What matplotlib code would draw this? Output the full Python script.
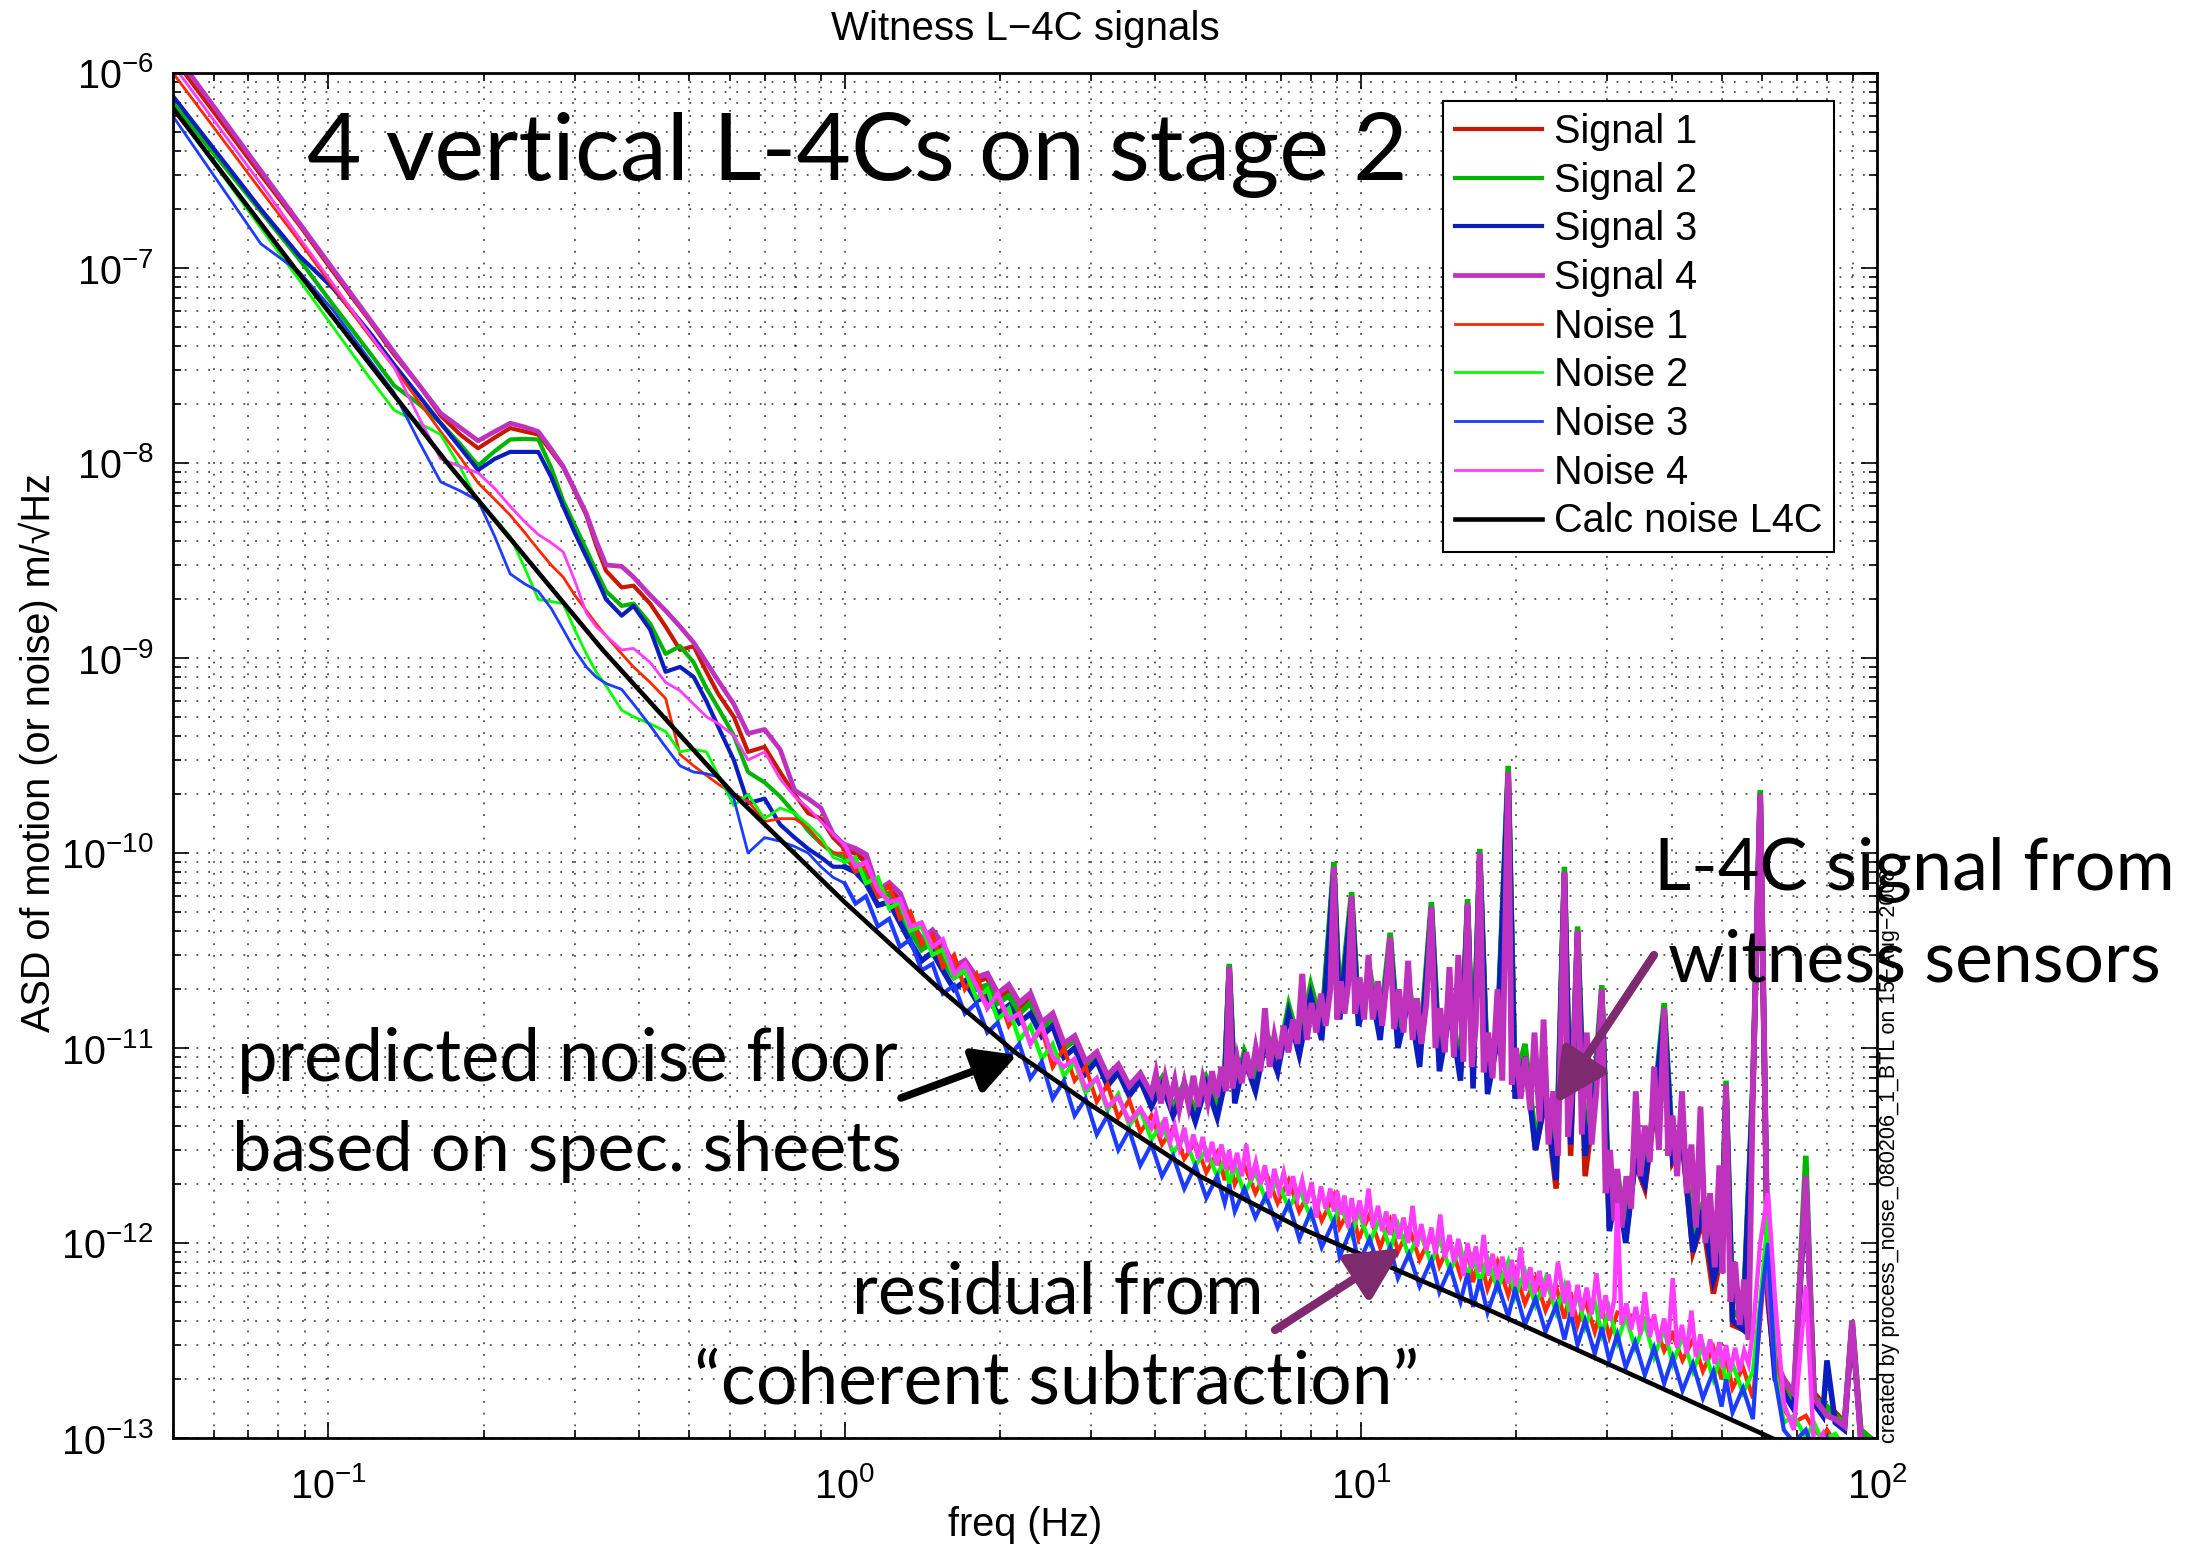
import matplotlib
matplotlib.use("Agg")
import matplotlib.pyplot as plt
from matplotlib.ticker import LogLocator, NullFormatter, FixedLocator
import numpy as np

W, H = 2208, 1548

# ------------------------------------------------------------------
# Data (frequency in Hz, ASD in m/rtHz)
# ------------------------------------------------------------------
FREQ_LO = [0.05, 0.074, 0.088, 0.102, 0.12, 0.134, 0.15, 0.165, 0.18, 0.195,
           0.21, 0.225, 0.24, 0.255, 0.27, 0.285, 0.30, 0.316, 0.33, 0.345,
           0.37, 0.39, 0.42, 0.45, 0.48, 0.51, 0.54, 0.57, 0.61, 0.65,
           0.70, 0.75, 0.80, 0.85, 0.90, 0.95]

FREQ_HI = [1.0, 1.05, 1.1, 1.16, 1.22, 1.28, 1.34, 1.41, 1.48, 1.55,
           1.63, 1.71, 1.80, 1.89, 1.98, 2.08, 2.18, 2.29, 2.41, 2.53,
           2.66, 2.79, 2.93, 3.08, 3.23, 3.39, 3.56, 3.74, 3.93, 4.12,
           4.33, 4.55, 4.78, 5.02, 5.27, 5.45, 5.56, 5.7, 5.95, 6.25,
           6.55, 6.9, 7.25, 7.6, 8.0, 8.4, 8.87, 9.1, 9.6, 9.9,
           10.4, 10.9, 11.4, 11.8, 12.4, 13.0, 13.7, 14.2, 14.9, 15.6,
           16.1, 16.5, 17.0, 17.6, 18.4, 19.3, 19.9, 20.8, 21.8, 22.8,
           23.9, 24.8, 25.5, 26.3, 27.2, 28.4, 29.3, 30.3, 31.4, 32.6,
           34.0, 35.5, 37.0, 38.7, 40.2, 42.0, 44.0, 46.0, 48.2, 50.0,
           51.0, 52.5, 55.0, 57.5, 59.4, 61.5, 63.5, 66.0, 69.0, 72.8,
           75.5, 78.5, 80.0, 83.0, 86.5, 89.5, 93.0, 97.0, 100.0]

# finer frequency grid (3.9-57.5 Hz) used for the two top-most traces
F_MID = [3.93, 4.01, 4.10, 4.18, 4.27, 4.36, 4.45, 4.55, 4.64, 4.74,
         4.84, 4.94, 5.05, 5.15, 5.26, 5.37, 5.48, 5.56, 5.64, 5.76,
         5.88, 6.0, 6.13, 6.26, 6.39, 6.52, 6.66, 6.8, 6.94, 7.09,
         7.24, 7.39, 7.54, 7.7, 7.86, 8.03, 8.2, 8.37, 8.55, 8.73,
         8.87, 9.0, 9.15, 9.3, 9.45, 9.6, 9.75, 9.95, 10.15, 10.35,
         10.55, 10.8, 11.0, 11.2, 11.4, 11.6, 11.85, 12.1, 12.35, 12.6,
         12.85, 13.1, 13.4, 13.7, 13.95, 14.25, 14.55, 14.85, 15.15, 15.45,
         15.8, 16.1, 16.4, 16.7, 17.0, 17.3, 17.65, 18.0, 18.4, 18.8,
         19.3, 19.6, 20.0, 20.4, 20.8, 21.3, 21.7, 22.2, 22.6, 23.1,
         23.6, 24.1, 24.8, 25.2, 25.7, 26.3, 26.8, 27.4, 28.0, 28.6,
         29.3, 29.8, 30.4, 31.0, 31.4, 32.0, 32.7, 33.4, 34.1, 34.8,
         35.5, 36.3, 37.0, 37.8, 38.7, 39.4, 40.2, 41.0, 41.9, 42.8,
         43.7, 44.6, 45.5, 46.5, 47.5, 48.5, 49.5, 50.2, 51.0, 52.0,
         53.1, 54.2, 55.3, 56.4, 57.5]

S1_LO = [1.2e-6, 3.0e-7, 1.65e-7, 9.6e-8, 5.4e-8, 3.6e-8, 2.5e-8, 1.75e-8, 1.4e-8, 1.19e-8,
         1.35e-8, 1.51e-8, 1.45e-8, 1.4e-8, 1.15e-8, 9.5e-9, 7.2e-9, 5.4e-9, 3.8e-9, 2.8e-9,
         2.3e-9, 2.35e-9, 1.9e-9, 1.45e-9, 1.1e-9, 1.15e-9, 8.5e-10, 6.5e-10, 5.0e-10, 3.3e-10,
         3.5e-10, 2.6e-10, 2.0e-10, 1.6e-10, 1.5e-10, 1.2e-10]
S1_HI = [1.05e-10, 1.0e-10, 9.0e-11, 6.2e-11, 6.8e-11, 5.8e-11, 4.4e-11, 3.5e-11, 3.8e-11, 3.2e-11,
         2.5e-11, 2.7e-11, 2.2e-11, 2.3e-11, 1.8e-11, 2.0e-11, 1.6e-11, 1.8e-11, 1.3e-11, 1.45e-11,
         1.0e-11, 1.1e-11, 8.2e-12, 9.2e-12, 7.0e-12, 8.0e-12, 6.2e-12, 7.2e-12, 5.6e-12, 6.8e-12,
         5.0e-12, 6.4e-12, 4.6e-12, 6.8e-12, 4.8e-12, 7.0e-12, 2.5e-11, 5.8e-12, 9.2e-12, 6.8e-12,
         1.15e-11, 8.2e-12, 1.55e-11, 1.0e-11, 1.9e-11, 1.25e-11, 8.2e-11, 1.55e-11, 5.8e-11, 1.45e-11,
         2.3e-11, 1.25e-11, 3.6e-11, 1.15e-11, 1.9e-11, 9.0e-12, 5.1e-11, 8.5e-12, 1.6e-11, 7.5e-12,
         5.3e-11, 7.0e-12, 9.5e-11, 6.5e-12, 1.1e-11, 2.5e-10, 6.0e-12, 9.5e-12, 3.0e-12, 5.5e-12,
         1.9e-12, 7.8e-11, 2.8e-12, 3.9e-11, 2.2e-12, 5.5e-12, 1.9e-11, 1.2e-12, 2.0e-12, 1.05e-12,
         2.6e-12, 1.9e-12, 4.6e-12, 1.5e-11, 2.6e-12, 3.2e-12, 9.0e-13, 1.3e-12, 5.5e-13, 9.0e-13,
         6.0e-12, 3.8e-13, 3.6e-13, 6.0e-12, 1.9e-10, 5.0e-13, 2.2e-13, 1.9e-13, 1.6e-13, 2.1e-12,
         1.7e-13, 1.5e-13, 1.4e-13, 1.35e-13, 1.2e-13, 3.8e-13, 1.1e-13, 1.0e-13, 9.5e-14]

S2_LO = [7.0e-7, 1.95e-7, 1.1e-7, 6.5e-8, 3.7e-8, 2.5e-8, 2.0e-8, 1.6e-8, 1.25e-8, 9.7e-9,
         1.15e-8, 1.32e-8, 1.33e-8, 1.32e-8, 9.5e-9, 6.4e-9, 4.8e-9, 3.6e-9, 2.8e-9, 2.2e-9,
         1.85e-9, 1.9e-9, 1.5e-9, 1.05e-9, 1.15e-9, 9.5e-10, 7.0e-10, 5.5e-10, 4.0e-10, 2.6e-10,
         2.3e-10, 1.95e-10, 1.6e-10, 1.3e-10, 1.12e-10, 1.0e-10]
S2_HI = [9.5e-11, 8.5e-11, 7.8e-11, 6.0e-11, 6.2e-11, 5.0e-11, 4.0e-11, 3.2e-11, 3.5e-11, 2.8e-11,
         2.3e-11, 2.5e-11, 2.0e-11, 2.1e-11, 1.7e-11, 1.85e-11, 1.5e-11, 1.7e-11, 1.25e-11, 1.4e-11,
         1.0e-11, 1.1e-11, 8.2e-12, 9.3e-12, 7.0e-12, 8.0e-12, 6.2e-12, 7.3e-12, 5.6e-12, 7.0e-12,
         5.0e-12, 6.6e-12, 4.7e-12, 7.0e-12, 4.9e-12, 7.2e-12, 2.7e-11, 5.9e-12, 9.6e-12, 6.9e-12,
         1.22e-11, 8.4e-12, 1.65e-11, 1.05e-11, 2.1e-11, 1.3e-11, 9.0e-11, 1.6e-11, 6.3e-11, 1.5e-11,
         2.5e-11, 1.3e-11, 3.9e-11, 1.2e-11, 2.1e-11, 9.5e-12, 5.6e-11, 9.0e-12, 1.75e-11, 8.0e-12,
         5.8e-11, 7.5e-12, 1.05e-10, 7.0e-12, 1.25e-11, 2.8e-10, 6.5e-12, 1.05e-11, 3.4e-12, 6.0e-12,
         2.5e-12, 8.5e-11, 3.9e-12, 4.2e-11, 3.4e-12, 6.8e-12, 2.1e-11, 1.4e-12, 2.3e-12, 1.2e-12,
         2.9e-12, 2.2e-12, 5.2e-12, 1.7e-11, 3.0e-12, 3.6e-12, 1.1e-12, 1.6e-12, 7.5e-13, 1.0e-12,
         6.8e-12, 4.5e-13, 4.0e-13, 6.8e-12, 2.1e-10, 6.0e-13, 2.3e-13, 2.0e-13, 1.6e-13, 2.8e-12,
         1.6e-13, 1.5e-13, 1.45e-13, 1.3e-13, 1.2e-13, 4.0e-13, 1.1e-13, 1.0e-13, 9.0e-14]

S3_LO = [7.6e-7, 2.0e-7, 1.15e-7, 7.9e-8, 4.7e-8, 3.2e-8, 2.2e-8, 1.6e-8, 1.2e-8, 9.2e-9,
         1.05e-8, 1.14e-8, 1.14e-8, 1.14e-8, 8.5e-9, 6.0e-9, 4.4e-9, 3.3e-9, 2.6e-9, 2.0e-9,
         1.65e-9, 1.85e-9, 1.4e-9, 8.5e-10, 9.0e-10, 8.0e-10, 6.0e-10, 4.4e-10, 3.0e-10, 1.8e-10,
         1.9e-10, 1.4e-10, 1.2e-10, 1.05e-10, 9.5e-11, 8.5e-11]
S3_HI = [8.5e-11, 8.0e-11, 7.0e-11, 5.4e-11, 5.6e-11, 4.4e-11, 3.5e-11, 2.8e-11, 3.1e-11, 2.5e-11,
         2.0e-11, 2.2e-11, 1.75e-11, 1.85e-11, 1.5e-11, 1.65e-11, 1.35e-11, 1.5e-11, 1.15e-11, 1.3e-11,
         9.0e-12, 1.0e-11, 7.4e-12, 8.6e-12, 6.4e-12, 7.5e-12, 5.7e-12, 6.8e-12, 5.0e-12, 6.5e-12,
         4.5e-12, 6.2e-12, 4.2e-12, 6.5e-12, 4.4e-12, 6.6e-12, 2.6e-11, 5.2e-12, 8.8e-12, 6.0e-12,
         1.1e-11, 7.5e-12, 1.5e-11, 9.2e-12, 1.85e-11, 1.1e-11, 8.3e-11, 1.4e-11, 5.8e-11, 1.3e-11,
         2.2e-11, 1.1e-11, 3.6e-11, 1.0e-11, 1.8e-11, 8.0e-12, 5.2e-11, 7.6e-12, 1.55e-11, 6.8e-12,
         5.4e-11, 6.2e-12, 9.8e-11, 5.8e-12, 1.1e-11, 2.5e-10, 5.5e-12, 9.0e-12, 3.0e-12, 5.6e-12,
         2.1e-12, 7.9e-11, 3.2e-12, 3.9e-11, 2.8e-12, 5.8e-12, 1.9e-11, 1.15e-12, 2.0e-12, 1.0e-12,
         2.6e-12, 2.0e-12, 4.8e-12, 1.55e-11, 2.7e-12, 3.3e-12, 9.0e-13, 1.45e-12, 6.5e-13, 9.0e-13,
         6.2e-12, 4.0e-13, 3.6e-13, 6.2e-12, 1.95e-10, 5.5e-13, 2.0e-13, 1.7e-13, 1.4e-13, 2.1e-12,
         1.5e-13, 1.3e-13, 2.5e-13, 1.2e-13, 1.1e-13, 3.8e-13, 1.0e-13, 9.0e-14, 8.5e-14]

S4_LO = [1.3e-6, 3.15e-7, 1.69e-7, 9.9e-8, 5.5e-8, 3.7e-8, 2.5e-8, 1.8e-8, 1.52e-8, 1.3e-8,
         1.45e-8, 1.6e-8, 1.53e-8, 1.45e-8, 1.18e-8, 9.6e-9, 7.3e-9, 5.5e-9, 4.0e-9, 3.0e-9,
         2.95e-9, 2.6e-9, 2.1e-9, 1.75e-9, 1.45e-9, 1.2e-9, 9.5e-10, 7.6e-10, 5.8e-10, 4.1e-10,
         4.3e-10, 3.4e-10, 2.1e-10, 1.9e-10, 1.7e-10, 1.25e-10]
S4_HI = [1.1e-10, 1.05e-10, 9.8e-11, 6.4e-11, 7.0e-11, 6.2e-11, 4.5e-11, 3.6e-11, 4.0e-11, 3.4e-11,
         2.6e-11, 2.8e-11, 2.3e-11, 2.4e-11, 1.9e-11, 2.1e-11, 1.7e-11, 1.9e-11, 1.35e-11, 1.5e-11,
         1.05e-11, 1.15e-11, 8.5e-12, 9.5e-12, 7.2e-12, 8.2e-12, 6.4e-12, 7.4e-12, 5.8e-12, 7.0e-12,
         5.2e-12, 6.6e-12, 4.8e-12, 7.0e-12, 5.0e-12, 7.2e-12, 2.6e-11, 6.0e-12, 9.5e-12, 7.0e-12,
         1.2e-11, 8.5e-12, 1.6e-11, 1.05e-11, 2.0e-11, 1.3e-11, 8.5e-11, 1.6e-11, 6.0e-11, 1.5e-11,
         2.4e-11, 1.3e-11, 3.7e-11, 1.2e-11, 2.0e-11, 9.5e-12, 5.3e-11, 9.0e-12, 1.7e-11, 8.0e-12,
         5.5e-11, 7.5e-12, 1.0e-10, 7.0e-12, 1.2e-11, 2.6e-10, 6.5e-12, 1.0e-11, 3.5e-12, 6.0e-12,
         2.6e-12, 8.0e-11, 4.0e-12, 4.0e-11, 3.5e-12, 6.5e-12, 2.0e-11, 1.4e-12, 2.2e-12, 1.2e-12,
         2.8e-12, 2.2e-12, 5.0e-12, 1.6e-11, 3.0e-12, 3.5e-12, 1.1e-12, 1.6e-12, 7.5e-13, 1.0e-12,
         6.5e-12, 4.5e-13, 4.0e-13, 6.5e-12, 2.0e-10, 6.0e-13, 2.5e-13, 2.0e-13, 1.7e-13, 2.2e-12,
         1.6e-13, 1.4e-13, 1.3e-13, 1.25e-13, 1.15e-13, 4.0e-13, 1.0e-13, 9.5e-14, 9.0e-14]
S4_MID = [5.8e-12, 7.4e-12, 5.2e-12, 7.0e-12, 5.4e-12, 6.8e-12, 4.9e-12, 6.6e-12, 5.1e-12, 7.2e-12,
          5.0e-12, 6.9e-12, 5.3e-12, 7.6e-12, 5.6e-12, 8.0e-12, 6.0e-12, 2.6e-11, 6.2e-12, 8.8e-12,
          6.6e-12, 9.5e-12, 7.0e-12, 1.0e-11, 7.6e-12, 1.6e-11, 8.0e-12, 1.15e-11, 8.8e-12, 1.3e-11,
          9.5e-12, 1.4e-11, 1.05e-11, 2.4e-11, 1.1e-11, 1.7e-11, 1.2e-11, 1.9e-11, 1.3e-11, 2.0e-11,
          8.5e-11, 1.4e-11, 2.2e-11, 1.5e-11, 2.1e-11, 6.0e-11, 1.5e-11, 2.3e-11, 1.4e-11, 3.0e-11,
          1.4e-11, 2.2e-11, 1.3e-11, 2.1e-11, 3.7e-11, 1.25e-11, 2.0e-11, 1.2e-11, 2.8e-11, 1.1e-11,
          1.8e-11, 1.05e-11, 1.7e-11, 5.3e-11, 1.0e-11, 1.6e-11, 9.5e-12, 2.6e-11, 9.0e-12, 3.0e-11,
          8.5e-12, 5.5e-11, 8.0e-12, 1.3e-11, 1.0e-10, 7.5e-12, 1.2e-11, 7.0e-12, 2.0e-11, 6.8e-12,
          2.6e-10, 6.5e-12, 1.0e-11, 5.5e-12, 9.0e-12, 4.8e-12, 1.2e-11, 4.2e-12, 1.4e-11, 3.2e-12,
          6.0e-12, 2.8e-12, 8.0e-11, 3.5e-12, 6.5e-12, 4.0e-11, 3.6e-12, 1.2e-11, 3.2e-12, 6.0e-12,
          2.0e-11, 1.8e-12, 3.0e-12, 1.3e-12, 2.4e-12, 1.2e-12, 2.2e-12, 1.5e-12, 6.0e-12, 2.2e-12,
          4.0e-12, 2.6e-12, 8.0e-12, 3.0e-12, 1.6e-11, 2.8e-12, 4.5e-12, 2.2e-12, 6.0e-12, 1.8e-12,
          3.2e-12, 1.2e-12, 5.0e-12, 1.0e-12, 1.8e-12, 7.5e-13, 2.5e-12, 7.0e-13, 6.5e-12, 5.0e-13,
          8.0e-13, 3.8e-13, 6.5e-13, 3.2e-13, 6.5e-12]

N1_LO = [1.0e-6, 2.5e-7, 1.36e-7, 8.0e-8, 4.5e-8, 3.1e-8, 2.05e-8, 1.45e-8, 1.07e-8, 7.9e-9,
         6.5e-9, 5.4e-9, 4.4e-9, 3.6e-9, 3.0e-9, 2.6e-9, 2.1e-9, 1.75e-9, 1.5e-9, 1.3e-9,
         1.05e-9, 9.0e-10, 7.5e-10, 6.2e-10, 3.2e-10, 2.8e-10, 2.5e-10, 2.25e-10, 2.0e-10, 1.85e-10,
         1.45e-10, 1.5e-10, 1.5e-10, 1.35e-10, 1.12e-10, 1.0e-10]
N1_HI = [1.0e-10, 8.0e-11, 8.5e-11, 6.0e-11, 6.8e-11, 4.6e-11, 5.0e-11, 3.4e-11, 3.8e-11, 2.6e-11,
         3.0e-11, 2.0e-11, 2.4e-11, 1.6e-11, 1.9e-11, 1.3e-11, 1.55e-11, 1.05e-11, 1.25e-11, 8.0e-12,
         1.0e-11, 6.8e-12, 8.0e-12, 5.3e-12, 6.5e-12, 4.4e-12, 5.4e-12, 3.7e-12, 4.5e-12, 3.2e-12,
         3.9e-12, 2.7e-12, 3.3e-12, 2.3e-12, 2.9e-12, 2.1e-12, 2.7e-12, 2.0e-12, 2.5e-12, 1.8e-12,
         2.3e-12, 1.6e-12, 2.1e-12, 1.45e-12, 1.9e-12, 1.3e-12, 1.75e-12, 1.2e-12, 1.55e-12, 1.05e-12,
         1.4e-12, 9.5e-13, 1.3e-12, 9.0e-13, 1.2e-12, 8.2e-13, 1.1e-12, 7.6e-13, 1.0e-12, 6.8e-13,
         9.0e-13, 6.3e-13, 8.6e-13, 5.8e-13, 8.0e-13, 5.4e-13, 7.2e-13, 4.9e-13, 6.6e-13, 4.5e-13,
         6.0e-13, 4.1e-13, 5.6e-13, 3.8e-13, 5.1e-13, 3.5e-13, 4.7e-13, 3.3e-13, 4.4e-13, 4.3e-13,
         4.2e-13, 4.1e-13, 3.9e-13, 2.8e-13, 3.4e-13, 2.5e-13, 3.2e-13, 2.2e-13, 2.9e-13, 2.0e-13,
         2.6e-13, 1.8e-13, 2.3e-13, 1.6e-13, 4.0e-13, 1.2e-12, 2.5e-13, 1.4e-13, 1.2e-13, 1.3e-13,
         1.1e-13, 1.0e-13, 1.1e-13, 9.5e-14, 9.5e-14, 8.5e-14, 8.5e-14, 8.0e-14, 7.5e-14]

N2_LO = [6.7e-7, 1.6e-7, 8.6e-8, 5.0e-8, 2.75e-8, 1.87e-8, 1.6e-8, 1.4e-8, 9.5e-9, 6.3e-9,
         5.2e-9, 4.2e-9, 2.9e-9, 2.0e-9, 1.95e-9, 1.9e-9, 1.4e-9, 1.05e-9, 8.5e-10, 7.2e-10,
         5.4e-10, 5.0e-10, 4.6e-10, 4.2e-10, 3.3e-10, 3.4e-10, 3.3e-10, 2.5e-10, 1.75e-10, 2.0e-10,
         1.5e-10, 1.7e-10, 1.6e-10, 1.4e-10, 1.2e-10, 9.5e-11]
N2_HI = [9.0e-11, 9.5e-11, 7.0e-11, 7.5e-11, 5.2e-11, 5.6e-11, 4.0e-11, 4.2e-11, 3.0e-11, 3.2e-11,
         2.3e-11, 2.5e-11, 1.8e-11, 2.0e-11, 1.4e-11, 1.6e-11, 1.1e-11, 1.3e-11, 8.8e-12, 1.05e-11,
         7.2e-12, 8.5e-12, 5.9e-12, 7.0e-12, 4.8e-12, 5.8e-12, 4.0e-12, 4.8e-12, 3.4e-12, 4.1e-12,
         2.9e-12, 3.5e-12, 2.5e-12, 3.0e-12, 2.2e-12, 2.7e-12, 2.0e-12, 2.5e-12, 1.8e-12, 2.3e-12,
         1.65e-12, 2.1e-12, 1.5e-12, 1.9e-12, 1.35e-12, 1.75e-12, 1.25e-12, 1.6e-12, 1.1e-12, 1.45e-12,
         1.0e-12, 1.35e-12, 9.2e-13, 1.25e-12, 8.5e-13, 1.15e-12, 7.8e-13, 1.05e-12, 7.2e-13, 9.5e-13,
         6.6e-13, 9.0e-13, 6.2e-13, 8.4e-13, 5.8e-13, 8.0e-13, 5.3e-13, 7.2e-13, 4.8e-13, 6.6e-13,
         4.4e-13, 6.0e-13, 4.0e-13, 5.5e-13, 3.7e-13, 5.0e-13, 3.4e-13, 4.6e-13, 3.1e-13, 4.2e-13,
         2.9e-13, 3.9e-13, 2.6e-13, 3.6e-13, 2.4e-13, 3.3e-13, 2.2e-13, 3.0e-13, 2.0e-13, 2.7e-13,
         1.9e-13, 2.4e-13, 1.7e-13, 2.2e-13, 5.0e-13, 1.4e-12, 2.2e-13, 1.2e-13, 1.3e-13, 1.0e-13,
         1.2e-13, 9.5e-14, 1.0e-13, 1.05e-13, 9.0e-14, 9.0e-14, 8.0e-14, 7.5e-14, 7.0e-14]

N3_LO = [6.0e-7, 1.33e-7, 9.5e-8, 6.1e-8, 3.4e-8, 2.3e-8, 1.28e-8, 8.0e-9, 7.2e-9, 6.4e-9,
         4.2e-9, 2.7e-9, 2.4e-9, 2.2e-9, 1.8e-9, 1.4e-9, 1.1e-9, 9.0e-10, 8.0e-10, 7.4e-10,
         6.9e-10, 5.8e-10, 4.5e-10, 3.5e-10, 2.8e-10, 2.6e-10, 2.55e-10, 2.45e-10, 1.9e-10, 1.0e-10,
         1.2e-10, 1.15e-10, 1.08e-10, 1.0e-10, 8.5e-11, 7.5e-11]
N3_HI = [7.0e-11, 5.5e-11, 6.0e-11, 4.2e-11, 4.6e-11, 3.3e-11, 3.6e-11, 2.5e-11, 2.7e-11, 1.9e-11,
         2.1e-11, 1.5e-11, 1.7e-11, 1.2e-11, 1.35e-11, 9.0e-12, 1.05e-11, 7.0e-12, 8.5e-12, 5.5e-12,
         6.8e-12, 4.5e-12, 5.5e-12, 3.6e-12, 4.5e-12, 3.0e-12, 3.8e-12, 2.5e-12, 3.2e-12, 2.2e-12,
         2.8e-12, 1.9e-12, 2.5e-12, 1.7e-12, 2.2e-12, 1.6e-12, 2.0e-12, 1.45e-12, 1.9e-12, 1.35e-12,
         1.75e-12, 1.2e-12, 1.6e-12, 1.05e-12, 1.45e-12, 9.5e-13, 1.3e-12, 8.5e-13, 1.2e-12, 7.8e-13,
         1.05e-12, 7.2e-13, 9.5e-13, 6.6e-13, 8.8e-13, 6.0e-13, 8.2e-13, 5.6e-13, 7.5e-13, 5.0e-13,
         7.0e-13, 4.7e-13, 6.5e-13, 4.4e-13, 6.2e-13, 4.2e-13, 5.8e-13, 3.8e-13, 5.2e-13, 3.5e-13,
         4.8e-13, 3.2e-13, 4.4e-13, 3.0e-13, 4.0e-13, 2.7e-13, 3.7e-13, 2.5e-13, 3.4e-13, 2.3e-13,
         3.1e-13, 2.1e-13, 2.9e-13, 1.9e-13, 2.6e-13, 1.75e-13, 2.4e-13, 1.6e-13, 2.2e-13, 1.45e-13,
         2.0e-13, 1.35e-13, 1.8e-13, 1.25e-13, 4.5e-13, 1.0e-12, 2.0e-13, 1.1e-13, 9.5e-14, 1.1e-13,
         8.5e-14, 9.0e-14, 1.0e-13, 8.0e-14, 8.5e-14, 7.5e-14, 7.5e-14, 7.0e-14, 6.5e-14]

N4_LO = [1.1e-6, 2.7e-7, 1.42e-7, 8.3e-8, 4.6e-8, 3.1e-8, 1.7e-8, 1.05e-8, 9.6e-9, 8.9e-9,
         7.4e-9, 6.0e-9, 5.0e-9, 4.3e-9, 3.9e-9, 3.5e-9, 2.5e-9, 1.7e-9, 1.45e-9, 1.3e-9,
         1.1e-9, 1.12e-9, 9.5e-10, 7.5e-10, 6.8e-10, 5.8e-10, 5.0e-10, 4.6e-10, 4.0e-10, 3.0e-10,
         3.3e-10, 2.4e-10, 1.95e-10, 1.7e-10, 1.45e-10, 1.25e-10]
N4_HI = [1.1e-10, 8.5e-11, 9.0e-11, 6.5e-11, 5.6e-11, 5.8e-11, 4.2e-11, 4.4e-11, 3.3e-11, 3.6e-11,
         2.4e-11, 2.7e-11, 2.1e-11, 1.6e-11, 1.9e-11, 1.4e-11, 1.5e-11, 1.05e-11, 1.3e-11, 9.0e-12,
         8.0e-12, 8.8e-12, 6.2e-12, 7.0e-12, 5.0e-12, 5.6e-12, 4.2e-12, 4.9e-12, 3.6e-12, 4.0e-12,
         3.1e-12, 3.6e-12, 2.6e-12, 3.3e-12, 2.5e-12, 2.9e-12, 2.2e-12, 2.7e-12, 2.0e-12, 2.5e-12,
         1.8e-12, 2.3e-12, 1.75e-12, 1.9e-12, 1.4e-12, 1.95e-12, 1.35e-12, 1.6e-12, 1.15e-12, 1.55e-12,
         1.1e-12, 1.3e-12, 1.0e-12, 1.35e-12, 9.0e-13, 1.2e-12, 8.5e-13, 1.1e-12, 7.5e-13, 1.0e-12,
         7.0e-13, 8.6e-13, 6.6e-13, 8.8e-13, 6.0e-13, 8.0e-13, 5.6e-13, 7.4e-13, 5.3e-13, 6.4e-13,
         4.6e-13, 6.6e-13, 4.4e-13, 5.4e-13, 4.0e-13, 5.3e-13, 3.7e-13, 4.6e-13, 1.6e-12, 3.4e-13,
         4.4e-13, 3.1e-13, 4.1e-13, 2.9e-13, 6.6e-13, 2.7e-13, 3.5e-13, 2.4e-13, 3.1e-13, 2.1e-13,
         2.7e-13, 1.9e-13, 2.6e-13, 3.5e-13, 1.0e-12, 1.8e-12, 5.0e-13, 1.5e-13, 1.1e-13, 6.0e-13,
         9.0e-14, 1.05e-13, 8.5e-14, 9.5e-14, 8.0e-14, 8.5e-14, 7.5e-14, 7.0e-14, 6.5e-14]
N4_MID = [3.9e-12, 4.6e-12, 3.5e-12, 4.4e-12, 3.3e-12, 4.0e-12, 3.1e-12, 3.9e-12, 2.9e-12, 3.6e-12,
          2.7e-12, 3.5e-12, 2.6e-12, 3.3e-12, 2.5e-12, 3.2e-12, 2.4e-12, 3.0e-12, 2.3e-12, 2.9e-12,
          2.2e-12, 3.2e-12, 2.1e-12, 2.6e-12, 2.0e-12, 2.5e-12, 1.7e-12, 2.4e-12, 1.85e-12, 2.3e-12,
          1.75e-12, 2.2e-12, 1.7e-12, 2.1e-12, 1.6e-12, 2.05e-12, 1.35e-12, 1.95e-12, 1.5e-12, 1.9e-12,
          1.45e-12, 1.85e-12, 1.4e-12, 1.75e-12, 1.2e-12, 1.7e-12, 1.3e-12, 1.65e-12, 1.25e-12, 1.9e-12,
          1.2e-12, 1.55e-12, 1.15e-12, 1.45e-12, 1.1e-12, 1.4e-12, 1.05e-12, 1.35e-12, 1.0e-12, 1.55e-12,
          9.6e-13, 1.25e-12, 9.2e-13, 1.2e-12, 8.8e-13, 1.4e-12, 8.4e-13, 1.1e-12, 8.0e-13, 1.05e-12,
          6.8e-13, 1.0e-12, 7.4e-13, 9.6e-13, 7.1e-13, 1.1e-12, 6.8e-13, 8.8e-13, 6.5e-13, 8.5e-13,
          6.2e-13, 8.2e-13, 6.0e-13, 9.5e-13, 5.7e-13, 7.5e-13, 5.5e-13, 7.2e-13, 5.3e-13, 6.9e-13,
          5.1e-13, 8.0e-13, 4.9e-13, 6.4e-13, 4.2e-13, 6.1e-13, 4.5e-13, 5.9e-13, 4.3e-13, 7.0e-13,
          4.1e-13, 5.4e-13, 4.0e-13, 5.2e-13, 1.6e-12, 3.8e-13, 4.9e-13, 3.6e-13, 4.7e-13, 3.4e-13,
          5.6e-13, 3.3e-13, 4.3e-13, 3.1e-13, 4.1e-13, 3.0e-13, 6.6e-13, 2.9e-13, 3.8e-13, 2.7e-13,
          4.5e-13, 2.6e-13, 3.4e-13, 2.5e-13, 3.2e-13, 2.4e-13, 3.1e-13, 2.3e-13, 3.0e-13, 2.2e-13,
          2.9e-13, 2.2e-13, 2.8e-13, 2.4e-13, 3.5e-13]

CALC_F = [0.05, 0.086, 0.17, 0.34, 0.61, 1.0, 1.5, 2.14, 3.0, 4.88, 7.6, 17.5, 62.5, 100.0]
CALC_V = [6.6e-7, 1.0e-7, 1.0e-8, 1.1e-9, 2.0e-10, 5.6e-11, 2.1e-11, 9.5e-12, 5.1e-12, 2.2e-12,
          1.2e-12, 4.6e-13, 1.0e-13, 5.7e-14]

X_TICKS = [0.1, 1, 10, 100]
Y_TICKS = [1e-13, 1e-12, 1e-11, 1e-10, 1e-9, 1e-8, 1e-7, 1e-6]

LABELS = ["Signal 1", "Signal 2", "Signal 3", "Signal 4",
          "Noise 1", "Noise 2", "Noise 3", "Noise 4", "Calc noise L4C"]
COLORS = ["#C81800", "#00B400", "#0A1EBE", "#BE32BE",
          "#FF2800", "#00FF00", "#1E3CFF", "#FF3CFF"]

assert len(F_MID) == len(S4_MID) == len(N4_MID)
for arr in (S1_HI, S2_HI, S3_HI, S4_HI, N1_HI, N2_HI, N3_HI, N4_HI):
    assert len(arr) == len(FREQ_HI)

# ------------------------------------------------------------------
plt.rcParams["font.family"] = ["Liberation Sans", "DejaVu Sans"]
plt.rcParams["mathtext.fontset"] = "custom"
plt.rcParams["mathtext.rm"] = "Liberation Sans"
plt.rcParams["mathtext.it"] = "Liberation Sans:italic"
plt.rcParams["mathtext.bf"] = "Liberation Sans:bold"

fig = plt.figure(figsize=(W / 100, H / 100), dpi=100)
ax = fig.add_axes([173 / W, 1 - 1438 / H, (1877 - 173) / W, (1438 - 73) / H])

# the two top traces (Signal 4, Noise 4) use the finer grid between 3.9 and 57.5 Hz
f_fine = FREQ_HI[:28] + F_MID + FREQ_HI[94:]
hf = [
    (FREQ_HI, S1_HI), (FREQ_HI, S2_HI), (FREQ_HI, S3_HI),
    (f_fine, S4_HI[:28] + S4_MID + S4_HI[94:]),
    (FREQ_HI, N1_HI), (FREQ_HI, N2_HI), (FREQ_HI, N3_HI),
    (f_fine, N4_HI[:28] + N4_MID + N4_HI[94:]),
]
lo_series = [S1_LO, S2_LO, S3_LO, S4_LO, N1_LO, N2_LO, N3_LO, N4_LO]
lw_lo = [3.0, 3.0, 3.0, 3.4, 2.0, 2.0, 2.0, 2.0]
lw_hi = [4.0, 4.0, 4.0, 4.2, 3.0, 3.0, 3.0, 3.2]

for lo, (fh, vh), color, w1, w2, label in zip(lo_series, hf, COLORS, lw_lo, lw_hi, LABELS):
    ax.plot(FREQ_LO + fh[:1], lo + vh[:1], color=color, lw=w1, label=label,
            solid_joinstyle="round")
    ax.plot(fh, vh, color=color, lw=w2, solid_joinstyle="miter")
ax.plot(CALC_F, CALC_V, color="black", lw=3.3, label=LABELS[-1])

ax.set_xscale("log")
ax.set_yscale("log")
ax.set_xlim(0.05, 100)
ax.set_ylim(1e-13, 1e-6)
ax.set_xticks(X_TICKS)
ax.set_yticks(Y_TICKS)
ax.xaxis.set_minor_locator(LogLocator(base=10, subs=np.arange(2, 10), numticks=100))
ax.yaxis.set_minor_locator(LogLocator(base=10, subs=np.arange(2, 10), numticks=100))
ax.xaxis.set_minor_formatter(NullFormatter())
ax.yaxis.set_minor_formatter(NullFormatter())

ax.set_axisbelow(True)
ax.grid(True, which="both", color="black", linestyle=(0, (1, 5.5)),
        linewidth=1.3, alpha=0.7)
ax.tick_params(which="both", direction="in", top=True, right=True,
               labelsize=28.5, width=1.2)
ax.tick_params(axis="x", which="both", pad=21)
ax.tick_params(axis="y", which="both", pad=14)
ax.tick_params(which="major", length=11.5)
ax.tick_params(which="minor", length=5.8)
for sp in ax.spines.values():
    sp.set_linewidth(2)

ax.set_title("Witness L\u22124C signals", fontsize=29, pad=24)
fig.text(1025 / W, 1 - 1525 / H, "freq (Hz)", fontsize=28.5, ha="center", va="center")
fig.text(38 / W, 1 - 753 / H, "ASD of motion (or noise) m/\u221aHz", fontsize=28.5,
         ha="center", va="center", rotation=90)
fig.text(1890 / W, 1 - 1443 / H,
         "created by process_noise_080206_1_BTL on 15\u2212Aug\u22122008",
         fontsize=15.5, ha="center", va="bottom", rotation=90)

leg = ax.legend(loc="upper left", bbox_to_anchor=(1443 / W, 1 - 101 / H),
                bbox_transform=fig.transFigure, fontsize=28.5, frameon=True,
                fancybox=False, edgecolor="black", framealpha=1, borderpad=0.3,
                labelspacing=0.27, handlelength=2.2, handletextpad=0.3,
                borderaxespad=0)
leg.get_frame().set_linewidth(1.5)

# annotation texts, sized to their width in the reference
renderer = fig.canvas.get_renderer()


def fitted_text(s, left_px, base_px, width_px):
    t = fig.text(left_px / W, 1 - base_px / H, s, fontsize=50, family="Lato",
                 ha="left", va="baseline", zorder=10)
    bb = t.get_window_extent(renderer)
    t.set_fontsize(50 * width_px / bb.width)
    return t


fitted_text("4 vertical L-4Cs on stage 2", 307, 180, 1101)
fitted_text("L-4C signal from", 1654, 890, 521)
fitted_text("witness sensors", 1668, 981, 493)
fitted_text("predicted noise floor", 237, 1081, 660)
fitted_text("based on spec. sheets", 232, 1171, 669)
fitted_text("residual from", 852, 1314, 411)
fitted_text("\u201ccoherent subtraction\u201d", 694, 1404, 725)


def arrow(tail, tip, color, lw, hl, hw):
    ax.annotate("", xy=(tip[0] / W, 1 - tip[1] / H), xytext=(tail[0] / W, 1 - tail[1] / H),
                xycoords="figure fraction", textcoords="figure fraction",
                arrowprops=dict(arrowstyle=f"-|>,head_length={hl},head_width={hw}",
                                lw=lw, color=color, shrinkA=0, shrinkB=0,
                                mutation_scale=10), zorder=11)


arrow((901, 1098), (1017, 1055), "black", 5.5, 2.6, 1.4)
arrow((1654, 955), (1555, 1104), "#7D2A6E", 6.0, 3.2, 1.6)
arrow((1275, 1330), (1402, 1248), "#7D2A6E", 6.0, 3.2, 1.6)

fig.savefig("out.png", dpi=100)
